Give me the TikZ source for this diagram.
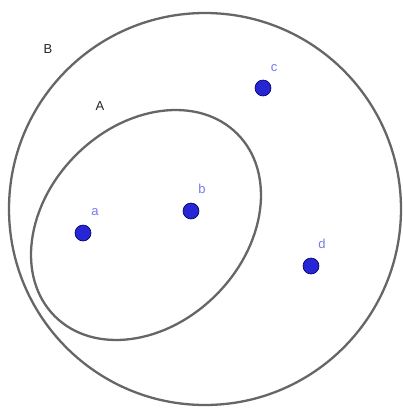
\documentclass[tikz,border=0pt]{standalone}
\usepackage{fontspec}
\setmainfont{Liberation Sans}
\begin{document}
\begin{tikzpicture}[x=1pt,y=-1pt,
  setline/.style={draw=black!60, line width=2.3pt},
  dot/.style={circle, fill=blue!80!black!85, draw=blue!40!black, line width=0.6pt, minimum size=16pt, inner sep=0pt},
  ptlabel/.style={text=blue!50!white!95!black, font=\fontsize{13}{15}\selectfont, inner sep=0pt},
  setlabel/.style={text=black!85, font=\fontsize{13}{15}\selectfont, inner sep=0pt}]
\useasboundingbox (0,0) rectangle (403,408);
\fill[white] (0,0) rectangle (403,408);
\draw[setline] (205,209) circle[radius=196];
\draw[setline, shift={(146,225)}, rotate=45] (0,0) ellipse[x radius=129, y radius=99];
\node[dot] (a) at (83,233) {};
\node[dot] (b) at (191,211) {};
\node[dot] (c) at (263,88) {};
\node[dot] (d) at (311,266) {};
\node[ptlabel] (la) at (95,212) {a};
\node[ptlabel] (lb) at (202,189) {b};
\node[ptlabel] (lc) at (274,68) {c};
\node[ptlabel] (ld) at (322,244) {d};
\node[setlabel] (lB) at (48,49) {B};
\node[setlabel] (lA) at (100,106) {A};
\end{tikzpicture}
\end{document}
